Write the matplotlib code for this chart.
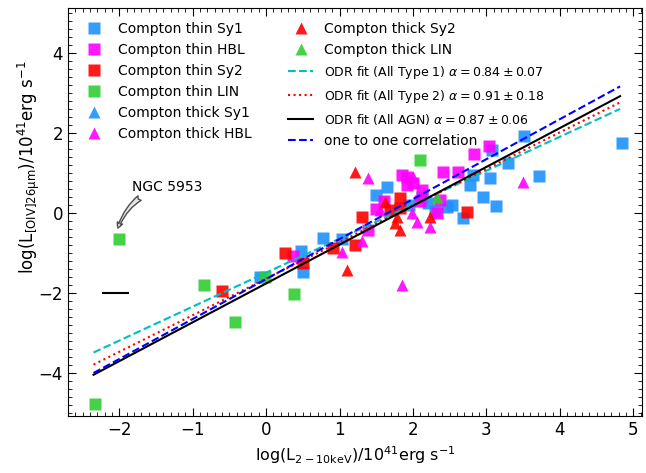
"""X-ray vs [OIV] 26um luminosity with ODR fits."""

import numpy as np
import matplotlib
matplotlib.use("Agg")
import matplotlib.pyplot as plt
from matplotlib.ticker import MultipleLocator

# Compton thin Sy1
thin_sy1_x = [-0.08, 0.48, 0.5, 0.78, 1.03, 1.5, 1.64, 1.95, 2.12, 2.2, 2.3, 2.46, 2.53,
              2.68, 2.78, 2.82, 2.95, 3.05, 3.07, 3.13, 3.29, 3.51, 3.71, 4.84]
thin_sy1_y = [-1.6, -0.95, -1.48, -0.63, -0.65, 0.45, 0.65, 0.2, 0.4, 0.25, 0.05, 0.15, 0.2,
              -0.13, 0.7, 0.95, 0.4, 0.88, 1.58, 0.18, 1.25, 1.93, 0.93, 1.75]
# Compton thin HBL
thin_hbl_x = [0.37, 1.39, 1.5, 1.6, 1.85, 1.92, 1.92, 2.0, 2.1, 2.12, 2.33, 2.37, 2.41, 2.61, 2.83, 3.03]
thin_hbl_y = [-1.08, -0.43, 0.1, 0.3, 0.95, 0.9, 0.7, 0.75, 0.3, 0.58, 0.0, 0.33, 1.03, 1.03, 1.48, 1.68]
# Compton thin Sy2
thin_sy2_x = [-0.6, 0.26, 0.5, 0.91, 1.21, 1.31, 1.69, 1.82, 1.82, 2.73]
thin_sy2_y = [-1.95, -1.0, -1.25, -0.88, -0.8, -0.1, 0.08, 0.38, 0.12, 0.03]
# Compton thin LIN
thin_lin_x = [-2.33, -2.0, -0.84, -0.42, -0.01, 0.38, 2.1]
thin_lin_y = [-4.78, -0.65, -1.8, -2.73, -1.6, -2.03, 1.33]
# Compton thick Sy1 (none visible)
thick_sy1_x = []
thick_sy1_y = []
# Compton thick HBL
thick_hbl_x = [1.03, 1.3, 1.39, 1.55, 1.85, 1.99, 2.0, 2.05, 2.23, 3.5]
thick_hbl_y = [-0.98, -0.72, 0.88, 0.08, -1.8, 0.0, 0.9, -0.23, -0.35, 0.78]
# Compton thick Sy2
thick_sy2_x = [1.1, 1.21, 1.62, 1.76, 1.78, 1.82, 2.23]
thick_sy2_y = [-1.43, 1.03, 0.28, -0.25, -0.1, -0.43, -0.1]
# Compton thick LIN
thick_lin_x = [2.33]
thick_lin_y = [0.4]

# fitted lines: (slope, intercept) over the data range
fit_x = [-2.35, 4.82]
fit_type1 = (0.85, -1.50)
fit_type2 = (0.915, -1.65)
fit_all = (0.972, -1.77)
one_to_one = (1.0, -1.66)

# typical error bar
err_x, err_y, err_dx = -2.05, -2.0, 0.18

fig = plt.figure(figsize=(6.46, 4.73), dpi=100)
ax = fig.add_axes([0.105, 0.121, 0.889, 0.862])

ms = 8
kw = dict(ls="none", alpha=0.9, mec="none")
ax.plot(thin_sy1_x, thin_sy1_y, "s", color="dodgerblue", ms=ms, label="Compton thin Sy1", **kw)
ax.plot(thin_hbl_x, thin_hbl_y, "s", color="magenta", ms=ms, label="Compton thin HBL", **kw)
ax.plot(thin_sy2_x, thin_sy2_y, "s", color="red", ms=ms, label="Compton thin Sy2", **kw)
ax.plot(thin_lin_x, thin_lin_y, "s", color="limegreen", ms=ms, label="Compton thin LIN", **kw)
ax.plot(thick_sy1_x, thick_sy1_y, "^", color="dodgerblue", ms=ms + 1, label="Compton thick Sy1", **kw)
ax.plot(thick_hbl_x, thick_hbl_y, "^", color="magenta", ms=ms + 1, label="Compton thick HBL", **kw)
ax.plot(thick_sy2_x, thick_sy2_y, "^", color="red", ms=ms + 1, label="Compton thick Sy2", **kw)
ax.plot(thick_lin_x, thick_lin_y, "^", color="limegreen", ms=ms + 1, label="Compton thick LIN", **kw)

xx = np.array(fit_x)
ax.plot(xx, fit_type1[0] * xx + fit_type1[1], "c--", lw=1.5,
        label=r"ODR fit (All Type 1) $\alpha=0.84\pm0.07$")
ax.plot(xx, fit_type2[0] * xx + fit_type2[1], "r:", lw=1.5,
        label=r"ODR fit (All Type 2) $\alpha=0.91\pm0.18$")
ax.plot(xx, fit_all[0] * xx + fit_all[1], "k-", lw=1.5,
        label=r"ODR fit (All AGN) $\alpha=0.87\pm0.06$")
ax.plot(xx, one_to_one[0] * xx + one_to_one[1], "b--", lw=1.5,
        label="one to one correlation")

ax.errorbar([err_x], [err_y], xerr=[err_dx], yerr=[0.02], fmt="none", ecolor="k", lw=1.5)

ax.annotate("NGC 5953", xy=(-2.03, -0.45), xytext=(-1.82, 0.55), fontsize=10,
            arrowprops=dict(arrowstyle="fancy", fc="0.9", ec="0.3",
                            connectionstyle="arc3,rad=0.3",
                            shrinkA=2, shrinkB=2))

ax.set_xlim(-2.7, 5.12)
ax.set_ylim(-5.08, 5.12)
ax.xaxis.set_major_locator(MultipleLocator(1))
ax.xaxis.set_minor_locator(MultipleLocator(0.1))
ax.yaxis.set_major_locator(MultipleLocator(2))
ax.yaxis.set_minor_locator(MultipleLocator(0.2))
ax.tick_params(which="both", direction="in", top=True, right=True, labelsize=12)
ax.tick_params(which="major", length=6)
ax.tick_params(which="minor", length=3)

ax.set_xlabel(r"$\rm log(L_{2-10keV})/10^{41}erg\ s^{-1}$", fontsize=11.5)
ax.set_ylabel(r"$\rm log(L_{[OIV]26\mu m})/10^{41}erg\ s^{-1}$", fontsize=12)
ax.yaxis.set_label_coords(-0.045, 0.61)

leg = ax.legend(loc="upper left", ncol=2, frameon=False, fontsize=10,
                labelspacing=0.5, columnspacing=2.65, handlelength=1.8,
                borderaxespad=0.6)
for t in leg.get_texts()[8:11]:
    t.set_fontsize(9)

fig.savefig("out.png", dpi=100)
